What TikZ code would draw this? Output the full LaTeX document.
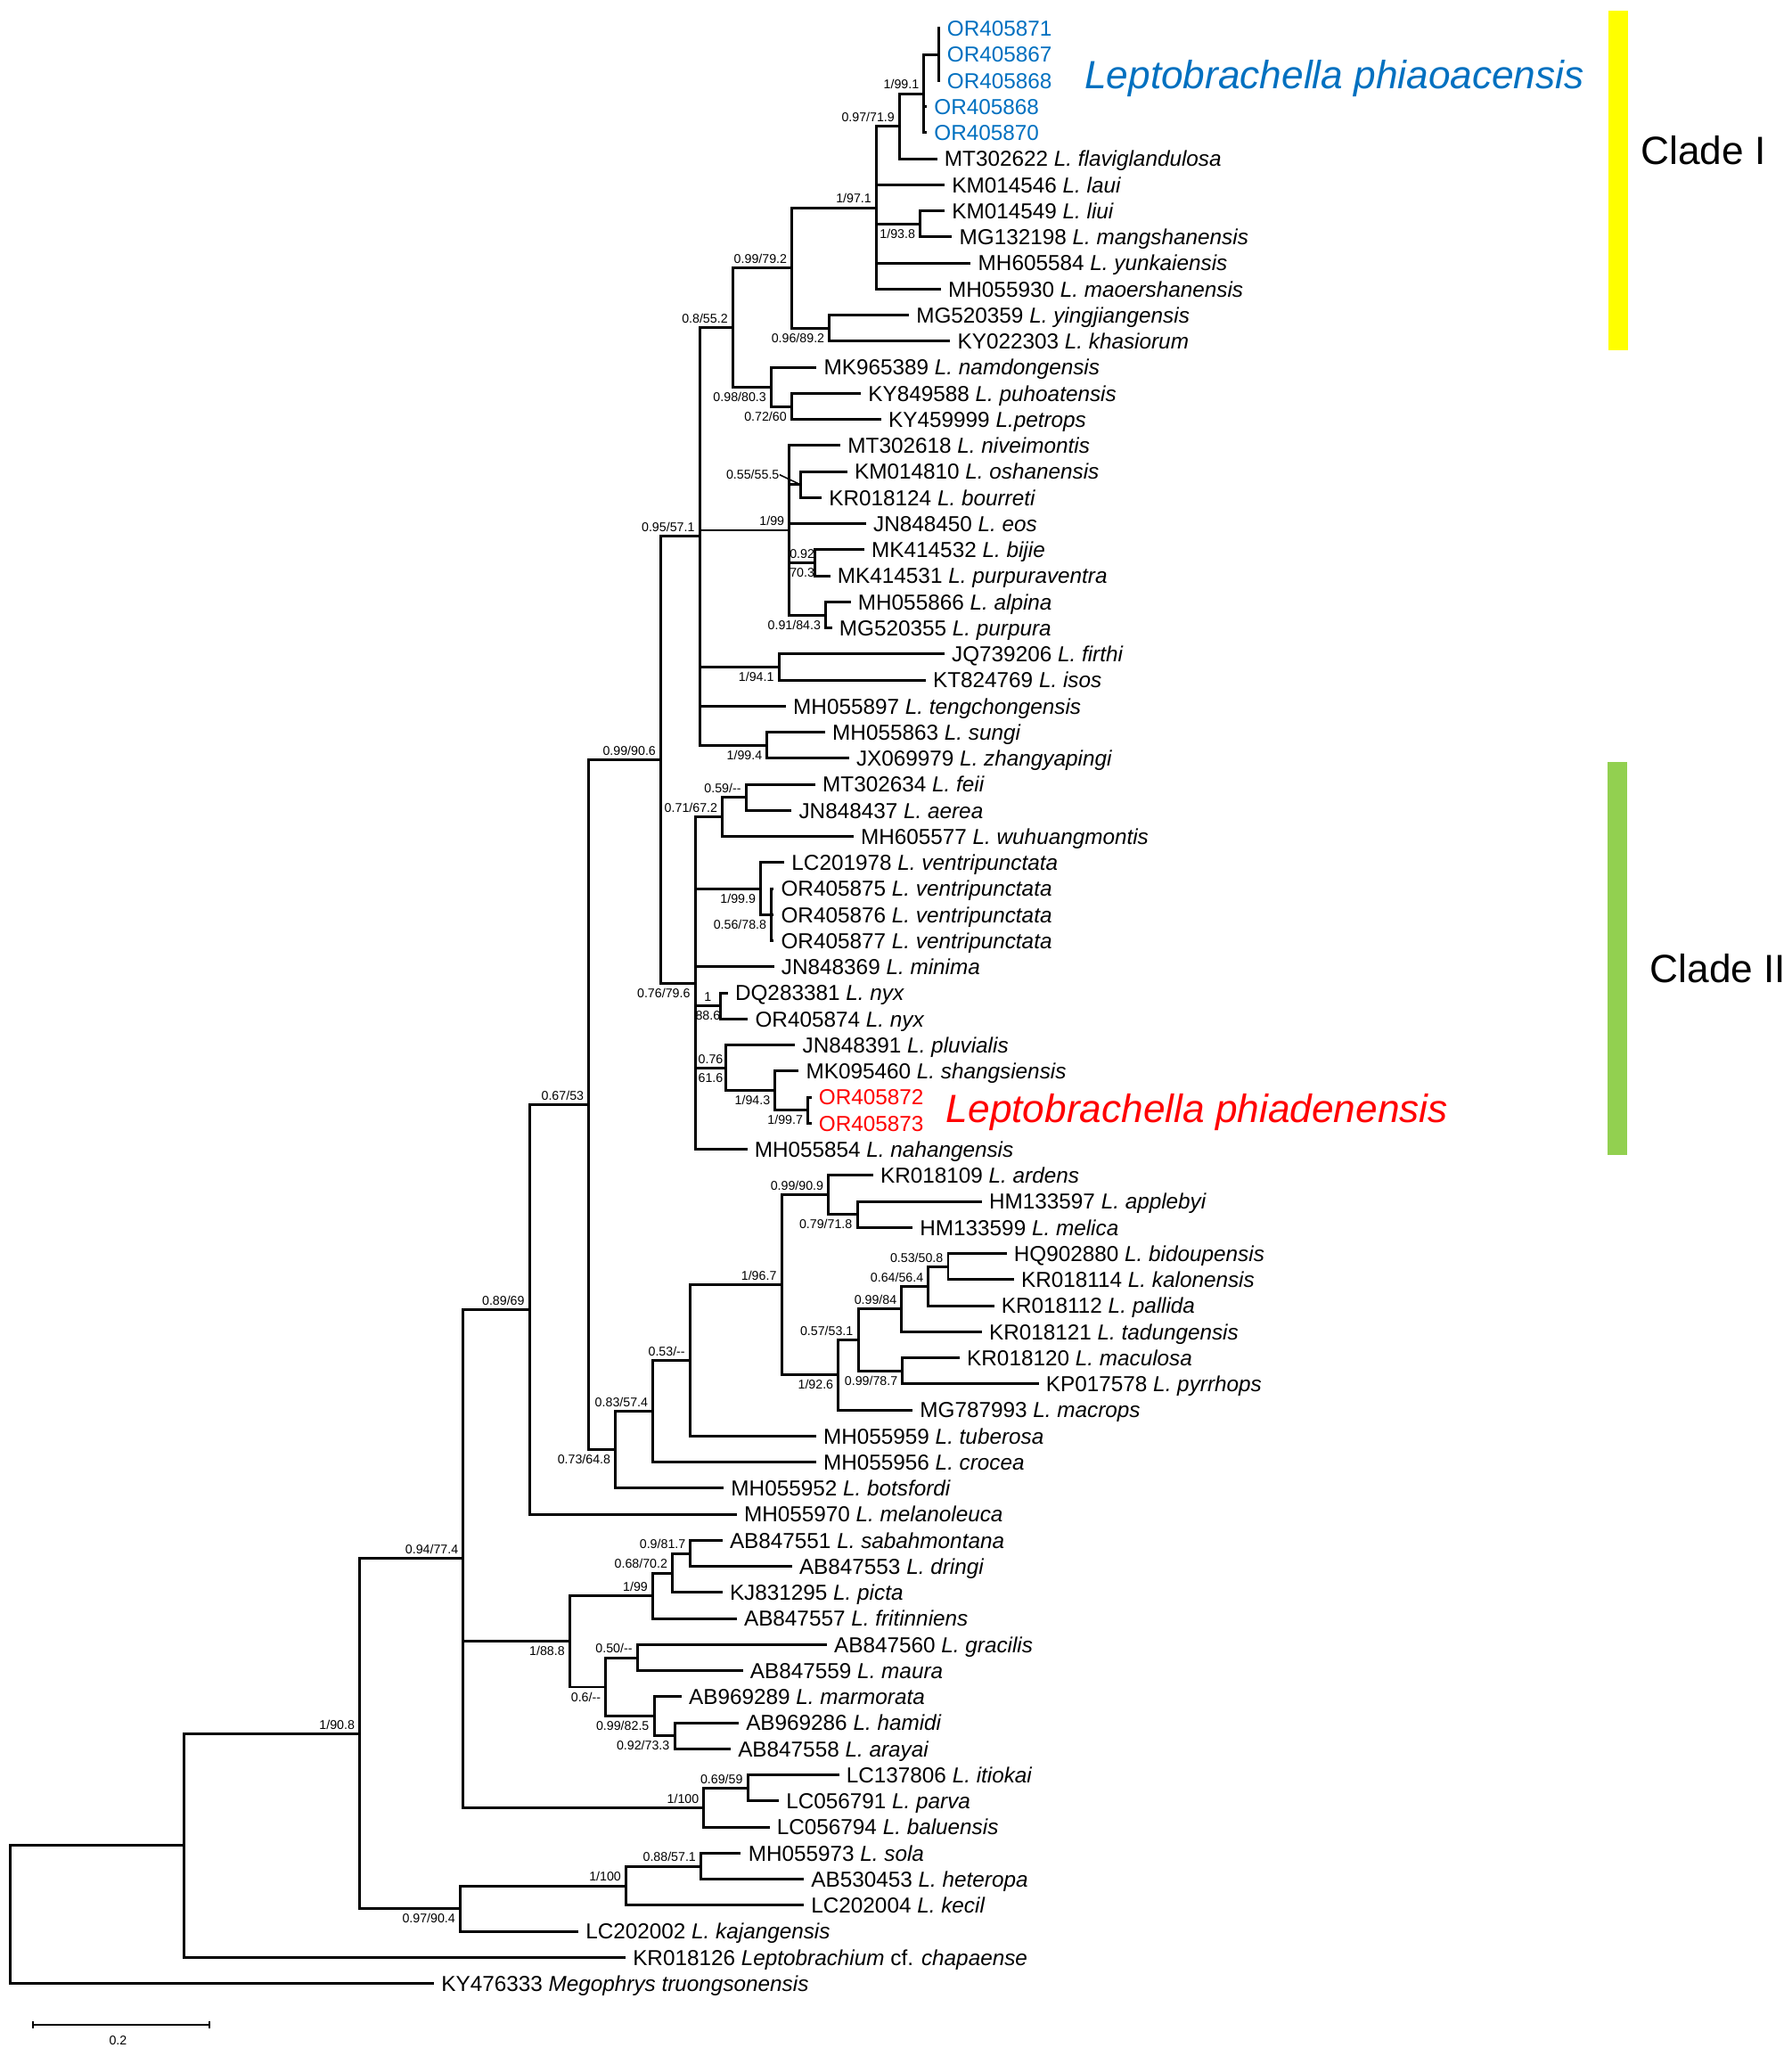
\documentclass[tikz,border=0pt]{standalone}
\usepackage{fontspec}
\setmainfont{Liberation Sans}
\usetikzlibrary{calc}

\definecolor{phiaoblue}{RGB}{0,112,192}
\definecolor{phiared}{RGB}{255,0,0}
\definecolor{cladeyellow}{RGB}{255,255,0}
\definecolor{cladegreen}{RGB}{146,208,80}

\newcommand{\tipfont}{\fontsize{9.4}{11}\selectfont}
\newcommand{\supfont}{\fontsize{5.5}{6}\selectfont}
\newcommand{\bigfont}{\fontsize{17.1}{20}\selectfont}

% branches from a node to each of its children
\newcommand{\subtree}[2]{\foreach \k in {#2} {\draw[branch] (#1) |- (\k);}}

\tikzset{
  branch/.style={line width=1.15pt, black},
  leaf/.style={anchor=west, inner xsep=3pt, inner ysep=0pt, text height=6.7pt, text depth=0pt, font=\tipfont},
  supa/.style={anchor=south east, inner sep=0pt, text height=4pt, text depth=0pt, font=\supfont, xshift=-2pt, yshift=1.8pt},
  supb/.style={anchor=north east, inner sep=0pt, text height=4pt, text depth=0pt, font=\supfont, xshift=-2pt, yshift=-2pt},
  supu/.style={anchor=south, inner sep=0pt, text height=4pt, text depth=0pt, font=\supfont, yshift=1.8pt},
  supd/.style={anchor=north, inner sep=0pt, text height=4pt, text depth=0pt, font=\supfont, yshift=-2pt},
}

\begin{document}
\begin{tikzpicture}[x=0.02cm, y=-0.3976cm]

    \useasboundingbox (0,-0.0915) rectangle (1366,78.78);

    %%%%%%%%%%%%%%%%%%%%%%%%%%
    % Tips (one per row)
    %%%%%%%%%%%%%%%%%%%%%%%%%%
    \node[leaf, text=phiaoblue] (t1) at (716.6,1) {OR405871};
    \node[leaf, text=phiaoblue] (t2) at (716.6,2) {OR405867};
    \node[leaf, text=phiaoblue] (t3) at (716.6,3) {OR405868};
    \node[leaf, text=phiaoblue] (t4) at (706.8,4) {OR405868};
    \node[leaf, text=phiaoblue] (t5) at (706.8,5) {OR405870};
    \node[leaf] (t6) at (714.6,6) {MT302622 \textit{L. flaviglandulosa}};
    \node[leaf] (t7) at (720.3,7) {KM014546 \textit{L. laui}};
    \node[leaf] (t8) at (720.3,8) {KM014549 \textit{L. liui}};
    \node[leaf] (t9) at (726,9) {MG132198 \textit{L. mangshanensis}};
    \node[leaf] (t10) at (740.3,10) {MH605584 \textit{L. yunkaiensis}};
    \node[leaf] (t11) at (717.5,11) {MH055930 \textit{L. maoershanensis}};
    \node[leaf] (t12) at (693.1,12) {MG520359 \textit{L. yingjiangensis}};
    \node[leaf] (t13) at (724.6,13) {KY022303 \textit{L. khasiorum}};
    \node[leaf] (t14) at (622.7,14) {MK965389 \textit{L. namdongensis}};
    \node[leaf] (t15) at (656.5,15) {KY849588 \textit{L. puhoatensis}};
    \node[leaf] (t16) at (672,16) {KY459999 \textit{L.petrops}};
    \node[leaf] (t17) at (640.9,17) {MT302618 \textit{L. niveimontis}};
    \node[leaf] (t18) at (646.1,18) {KM014810 \textit{L. oshanensis}};
    \node[leaf] (t19) at (626.6,19) {KR018124 \textit{L. bourreti}};
    \node[leaf] (t20) at (660.4,20) {JN848450 \textit{L. eos}};
    \node[leaf] (t21) at (659.1,21) {MK414532 \textit{L. bijie}};
    \node[leaf] (t22) at (633.1,22) {MK414531 \textit{L. purpuraventra}};
    \node[leaf] (t23) at (648.7,23) {MH055866 \textit{L. alpina}};
    \node[leaf] (t24) at (634.4,24) {MG520355 \textit{L. purpura}};
    \node[leaf] (t25) at (720.2,25) {JQ739206 \textit{L. firthi}};
    \node[leaf] (t26) at (705.9,26) {KT824769 \textit{L. isos}};
    \node[leaf] (t27) at (599.3,27) {MH055897 \textit{L. tengchongensis}};
    \node[leaf] (t28) at (629.2,28) {MH055863 \textit{L. sungi}};
    \node[leaf] (t29) at (647.4,29) {JX069979 \textit{L. zhangyapingi}};
    \node[leaf] (t30) at (621.7,30) {MT302634 \textit{L. feii}};
    \node[leaf] (t31) at (603.6,31) {JN848437 \textit{L. aerea}};
    \node[leaf] (t32) at (650.8,32) {MH605577 \textit{L. wuhuangmontis}};
    \node[leaf] (t33) at (598.1,33) {LC201978 \textit{L. ventripunctata}};
    \node[leaf] (t34) at (590,34) {OR405875 \textit{L. ventripunctata}};
    \node[leaf] (t35) at (590,35) {OR405876 \textit{L. ventripunctata}};
    \node[leaf] (t36) at (590,36) {OR405877 \textit{L. ventripunctata}};
    \node[leaf] (t37) at (590.3,37) {JN848369 \textit{L. minima}};
    \node[leaf] (t38) at (555,38) {DQ283381 \textit{L. nyx}};
    \node[leaf] (t39) at (570.3,39) {OR405874 \textit{L. nyx}};
    \node[leaf] (t40) at (606.4,40) {JN848391 \textit{L. pluvialis}};
    \node[leaf] (t41) at (609.1,41) {MK095460 \textit{L. shangsiensis}};
    \node[leaf, text=phiared] (t42) at (618.8,42) {OR405872};
    \node[leaf, text=phiared] (t43) at (618.8,43) {OR405873};
    \node[leaf] (t44) at (569.8,44) {MH055854 \textit{L. nahangensis}};
    \node[leaf] (t45) at (665.8,45) {KR018109 \textit{L. ardens}};
    \node[leaf] (t46) at (748.7,46) {HM133597 \textit{L. applebyi}};
    \node[leaf] (t47) at (695.9,47) {HM133599 \textit{L. melica}};
    \node[leaf] (t48) at (767.6,48) {HQ902880 \textit{L. bidoupensis}};
    \node[leaf] (t49) at (773.2,49) {KR018114 \textit{L. kalonensis}};
    \node[leaf] (t50) at (758.1,50) {KR018112 \textit{L. pallida}};
    \node[leaf] (t51) at (748.7,51) {KR018121 \textit{L. tadungensis}};
    \node[leaf] (t52) at (731.8,52) {KR018120 \textit{L. maculosa}};
    \node[leaf] (t53) at (792.1,53) {KP017578 \textit{L. pyrrhops}};
    \node[leaf] (t54) at (695.9,54) {MG787993 \textit{L. macrops}};
    \node[leaf] (t55) at (622.3,55) {MH055959 \textit{L. tuberosa}};
    \node[leaf] (t56) at (622.3,56) {MH055956 \textit{L. crocea}};
    \node[leaf] (t57) at (551.9,57) {MH055952 \textit{L. botsfordi}};
    \node[leaf] (t58) at (561.8,58) {MH055970 \textit{L. melanoleuca}};
    \node[leaf] (t59) at (550.9,59) {AB847551 \textit{L. sabahmontana}};
    \node[leaf] (t60) at (603.9,60) {AB847553 \textit{L. dringi}};
    \node[leaf] (t61) at (550.9,61) {KJ831295 \textit{L. picta}};
    \node[leaf] (t62) at (561.8,62) {AB847557 \textit{L. fritinniens}};
    \node[leaf] (t63) at (630.5,63) {AB847560 \textit{L. gracilis}};
    \node[leaf] (t64) at (566.5,64) {AB847559 \textit{L. maura}};
    \node[leaf] (t65) at (519.7,65) {AB969289 \textit{L. marmorata}};
    \node[leaf] (t66) at (563.3,66) {AB969286 \textit{L. hamidi}};
    \node[leaf] (t67) at (557.2,67) {AB847558 \textit{L. arayai}};
    \node[leaf] (t68) at (639.8,68) {LC137806 \textit{L. itiokai}};
    \node[leaf] (t69) at (593.9,69) {LC056791 \textit{L. parva}};
    \node[leaf] (t70) at (586.8,70) {LC056794 \textit{L. baluensis}};
    \node[leaf] (t71) at (565,71) {MH055973 \textit{L. sola}};
    \node[leaf] (t72) at (613,72) {AB530453 \textit{L. heteropa}};
    \node[leaf] (t73) at (613,73) {LC202004 \textit{L. kecil}};
    \node[leaf] (t74) at (441,74) {LC202002 \textit{L. kajangensis}};
    \node[leaf] (t75) at (477,75) {KR018126 \textit{Leptobrachium} cf. \textit{chapaense}};
    \node[leaf] (t76) at (331,76) {KY476333 \textit{Megophrys truongsonensis}};

    %%%%%%%%%%%%%%%%%%%%%%%%%%
    % Internal nodes (y = middle of first and last child)
    %%%%%%%%%%%%%%%%%%%%%%%%%%
    % --- Clade I side
    \coordinate (nY) at (716.1,2);
    \coordinate (nX) at (704.6,3.5);
    \coordinate (nV) at (686,4.75);
    \coordinate (nW) at (701.7,8.5);
    \coordinate (nT) at (668.3,7.875);
    \coordinate (nU) at (632.5,12.5);
    \coordinate (nR) at (603.9,10.1875);
    \coordinate (nZ) at (603.7,15.5);
    \coordinate (nS) at (588.1,14.75);
    \coordinate (nN) at (558.8,12.46875);
    \coordinate (nAA) at (610.4,18.5);
    \coordinate (nAB) at (621.4,21.5);
    \coordinate (nAC) at (629.7,23.5);
    \coordinate (nO) at (601.9,20.25);
    \coordinate (nP) at (594,25.5);
    \coordinate (nQ) at (585,28.5);
    \coordinate (nL) at (533.5,20.484);
    % --- Clade II side
    \coordinate (nAH) at (568.9,30.5);
    \coordinate (nAD) at (550.9,31.25);
    \coordinate (nAI) at (588.3,35);
    \coordinate (nAE) at (580.1,34);
    \coordinate (nAF) at (549.5,38.5);
    \coordinate (nAK) at (616.1,42.5);
    \coordinate (nAJ) at (591.1,41.75);
    \coordinate (nAG) at (553.7,40.875);
    \coordinate (nM) at (530.1,37.625);
    \coordinate (nJ) at (503.9,29.055);
    % --- southern group
    \coordinate (nAV) at (723,48.5);
    \coordinate (nAU) at (708,49.25);
    \coordinate (nAS) at (687.6,50.125);
    \coordinate (nAT) at (688.3,52.5);
    \coordinate (nAR) at (654.4,51.3125);
    \coordinate (nAP) at (639.3,52.656);
    \coordinate (nAQ) at (653.7,46.5);
    \coordinate (nAO) at (631.8,45.75);
    \coordinate (nAN) at (596,49.203);
    \coordinate (nAM) at (526.2,52.102);
    \coordinate (nAL) at (497.9,54.051);
    \coordinate (nK) at (469.4,55.525);
    \coordinate (nI) at (449,42.290);
    \coordinate (nF) at (403.8,50.145);
    % --- Bornean group
    \coordinate (nAZ) at (526.6,59.5);
    \coordinate (nAY) at (512.8,60.25);
    \coordinate (nAW) at (497.8,61.125);
    \coordinate (nBA) at (486,63.5);
    \coordinate (nBC) at (514.4,66.5);
    \coordinate (nBB) at (498.8,65.75);
    \coordinate (nAX) at (461.9,64.625);
    \coordinate (nG) at (434.5,62.875);
    \coordinate (nBD) at (570.2,68.5);
    \coordinate (nH) at (536.8,69.25);
    \coordinate (nD) at (353.3,59.698);
    \coordinate (nBF) at (534.5,71.5);
    \coordinate (nBE) at (477.4,72.25);
    \coordinate (nE) at (351,73.125);
    \coordinate (nC) at (274.3,66.411);
    \coordinate (nB) at (140.4,70.706);
    \coordinate (root) at (8,73.353);

    %%%%%%%%%%%%%%%%%%%%%%%%%%
    % Draw branches
    %%%%%%%%%%%%%%%%%%%%%%%%%%
    \subtree{nY}{t1,t2,t3}
    \subtree{nX}{nY,t4,t5}
    \subtree{nV}{nX,t6}
    \subtree{nW}{t8,t9}
    \subtree{nT}{nV,t7,nW,t10,t11}
    \subtree{nU}{t12,t13}
    \subtree{nR}{nT,nU}
    \subtree{nZ}{t15,t16}
    \subtree{nS}{t14,nZ}
    \subtree{nN}{nR,nS}
    \subtree{nAA}{t18,t19}
    \subtree{nAB}{t21,t22}
    \subtree{nAC}{t23,t24}
    \subtree{nO}{t17,nAA,t20,nAB,nAC}
    \subtree{nP}{t25,t26}
    \subtree{nQ}{t28,t29}
    \subtree{nL}{nN,nO,nP,t27,nQ}
    \subtree{nAH}{t30,t31}
    \subtree{nAD}{nAH,t32}
    \subtree{nAI}{t34,t35,t36}
    \subtree{nAE}{t33,nAI}
    \subtree{nAF}{t38,t39}
    \subtree{nAK}{t42,t43}
    \subtree{nAJ}{t41,nAK}
    \subtree{nAG}{t40,nAJ}
    \subtree{nM}{nAD,nAE,t37,nAF,nAG,t44}
    \subtree{nJ}{nL,nM}
    \subtree{nAV}{t48,t49}
    \subtree{nAU}{nAV,t50}
    \subtree{nAS}{nAU,t51}
    \subtree{nAT}{t52,t53}
    \subtree{nAR}{nAS,nAT}
    \subtree{nAP}{nAR,t54}
    \subtree{nAQ}{t46,t47}
    \subtree{nAO}{t45,nAQ}
    \subtree{nAN}{nAO,nAP}
    \subtree{nAM}{nAN,t55}
    \subtree{nAL}{nAM,t56}
    \subtree{nK}{nAL,t57}
    \subtree{nI}{nJ,nK}
    \subtree{nF}{nI,t58}
    \subtree{nAZ}{t59,t60}
    \subtree{nAY}{nAZ,t61}
    \subtree{nAW}{nAY,t62}
    \subtree{nBA}{t63,t64}
    \subtree{nBC}{t66,t67}
    \subtree{nBB}{t65,nBC}
    \subtree{nAX}{nBA,nBB}
    \subtree{nG}{nAW,nAX}
    \subtree{nBD}{t68,t69}
    \subtree{nH}{nBD,t70}
    \subtree{nD}{nF,nG,nH}
    \subtree{nBF}{t71,t72}
    \subtree{nBE}{nBF,t73}
    \subtree{nE}{nBE,t74}
    \subtree{nC}{nD,nE}
    \subtree{nB}{nC,t75}
    \subtree{root}{nB,t76}

    %%%%%%%%%%%%%%%%%%%%%%%%%%
    % Support values (PP/BS)
    %%%%%%%%%%%%%%%%%%%%%%%%%%
    \node[supa] (bnX) at (nX) {1/99.1};
    \node[supa] (bnV) at (nV) {0.97/71.9};
    \node[supa] (bnT) at (nT) {1/97.1};
    \node[supb] (bnW) at (nW) {1/93.8};
    \node[supa] (bnR) at (nR) {0.99/79.2};
    \node[supb] (bnU) at (nU) {0.96/89.2};
    \node[supa] (bnN) at (nN) {0.8/55.2};
    \node[supb] (bnS) at (nS) {0.98/80.3};
    \node[supb] (bnZ) at (nZ) {0.72/60};
    \node[anchor=east, inner sep=0pt, font=\supfont] (bnAA) at (594.5,18.12) {0.55/55.5};
    \draw[line width=0.6pt] (bnAA.east) -- (nAA);
    \node[supa] (bnO) at (nO) {1/99};
    \node[supu] (bnABu) at ($(nO |- nAB)!.5!(nAB)$) {0.92};
    \node[supd] (bnABd) at ($(nO |- nAB)!.5!(nAB)$) {70.3};
    \node[supb] (bnAC) at (nAC) {0.91/84.3};
    \node[supb] (bnP) at (nP) {1/94.1};
    \node[supb] (bnQ) at (nQ) {1/99.4};
    \node[supa] (bnL) at (nL) {0.95/57.1};
    \node[supa] (bnJ) at (nJ) {0.99/90.6};

    \node[supa] (bnAH) at (nAH) {0.59/-{}-};
    \node[supa] (bnAD) at (nAD) {0.71/67.2};
    \node[supb] (bnAE) at (nAE) {1/99.9};
    \node[supb] (bnAI) at (nAI) {0.56/78.8};
    \node[supu] (bnAFu) at ($(nM |- nAF)!.5!(nAF)$) {1};
    \node[supd] (bnAFd) at ($(nM |- nAF)!.5!(nAF)$) {88.6};
    \node[supu] (bnAGu) at ($(nM |- nAG)!.5!(nAG)$) {0.76};
    \node[supd] (bnAGd) at ($(nM |- nAG)!.5!(nAG)$) {61.6};
    \node[supb] (bnAJ) at (nAJ) {1/94.3};
    \node[supb] (bnAK) at (nAK) {1/99.7};
    \node[supb] (bnM) at (nM) {0.76/79.6};
    \node[supa] (bnI) at (nI) {0.67/53};
    \node[supa] (bnF) at (nF) {0.89/69};

    \node[supb] (bnK) at (nK) {0.73/64.8};
    \node[supa] (bnAL) at (nAL) {0.83/57.4};
    \node[supa] (bnAM) at (nAM) {0.53/-{}-};
    \node[supa] (bnAN) at (nAN) {1/96.7};
    \node[supa] (bnAO) at (nAO) {0.99/90.9};
    \node[supb] (bnAQ) at (nAQ) {0.79/71.8};
    \node[supb] (bnAP) at (nAP) {1/92.6};
    \node[supa] (bnAR) at (nAR) {0.57/53.1};
    \node[supa] (bnAS) at (nAS) {0.99/84};
    \node[supa] (bnAU) at (nAU) {0.64/56.4};
    \node[supa] (bnAV) at (nAV) {0.53/50.8};
    \node[supb] (bnAT) at (nAT) {0.99/78.7};

    \node[supa] (bnD) at (nD) {0.94/77.4};
    \node[supb] (bnG) at (nG) {1/88.8};
    \node[supa] (bnAW) at (nAW) {1/99};
    \node[supa] (bnAY) at (nAY) {0.68/70.2};
    \node[supa] (bnAZ) at (nAZ) {0.9/81.7};
    \node[supb] (bnAX) at (nAX) {0.6/-{}-};
    \node[supa] (bnBA) at (nBA) {0.50/-{}-};
    \node[supb] (bnBB) at (nBB) {0.99/82.5};
    \node[supb] (bnBC) at (nBC) {0.92/73.3};
    \node[supa] (bnH) at (nH) {1/100};
    \node[supa] (bnBD) at (nBD) {0.69/59};
    \node[supa] (bnC) at (nC) {1/90.8};
    \node[supb] (bnE) at (nE) {0.97/90.4};
    \node[supa] (bnBE) at (nBE) {1/100};
    \node[supa] (bnBF) at (nBF) {0.88/57.1};

    %%%%%%%%%%%%%%%%%%%%%%
    % Species names and clade bars
    %%%%%%%%%%%%%%%%%%%%%%
    \node[anchor=base west, inner sep=0pt, font=\bigfont\itshape, text=phiaoblue] (phiaoname) at (826.8,3.30) {Leptobrachella phiaoacensis};
    \node[anchor=base west, inner sep=0pt, font=\bigfont\itshape, text=phiared] (phianame) at (721.2,42.98) {Leptobrachella phiadenensis};

    \fill[cladeyellow] (1226.3,0.306) rectangle (1241.3,13.35);
    \fill[cladegreen] (1226.1,29.14) rectangle (1241,44.22);
    \node[anchor=base west, inner sep=0pt, font=\bigfont] (cladeone) at (1251,6.23) {Clade I};
    \node[anchor=base west, inner sep=0pt, font=\bigfont] (cladetwo) at (1258,37.6) {Clade II};

    % scale bar
    \coordinate (sbL) at (25,77.59);
    \coordinate (sbR) at (159.6,77.59);
    \draw[line width=0.7pt] (sbL) -- (sbR);
    \draw[line width=0.7pt] ([yshift=1.6pt]sbL) -- ([yshift=-1.6pt]sbL);
    \draw[line width=0.7pt] ([yshift=1.6pt]sbR) -- ([yshift=-1.6pt]sbR);
    \node[inner sep=0pt, font=\supfont] (sblabel) at (90,78.19) {0.2};
\end{tikzpicture}
\end{document}
